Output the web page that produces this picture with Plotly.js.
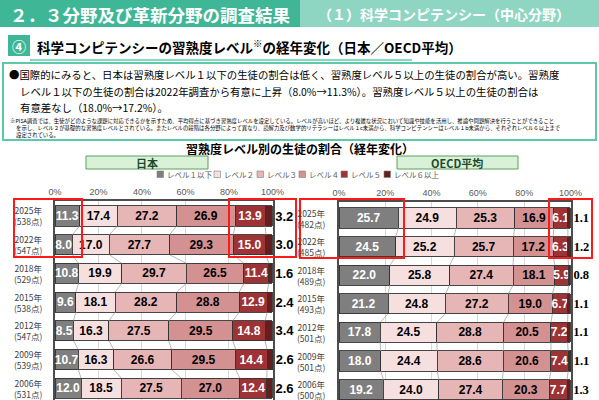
<!DOCTYPE html>
<html>
<head>
<meta charset="utf-8">
<script src="https://cdn.plot.ly/plotly-3.0.1.min.js"></script>
<style>html,body{margin:0;padding:0;background:#fff;}#chart{width:599px;height:400px;}</style>
</head>
<body>
<div id="chart"></div>
<script>
// ---------- DATA ----------
const years = ['2025', '2022', '2018', '2015', '2012', '2009', '2006'];
const jpScores = [538, 547, 529, 538, 547, 539, 531];
const oecdScores = [482, 485, 489, 493, 501, 501, 500];
const levelNames = ['レベル１以下', 'レベル２', 'レベル３', 'レベル４', 'レベル５', 'レベル６以上'];

const jpLv1 = [11.3, 8.0, 10.8, 9.6, 8.5, 10.7, 12.0];
const jpLv2 = [17.4, 17.0, 19.9, 18.1, 16.3, 16.3, 18.5];
const jpLv3 = [27.2, 27.7, 29.7, 28.2, 27.5, 26.6, 27.5];
const jpLv4 = [26.9, 29.3, 26.5, 28.8, 29.5, 29.5, 27.0];
const jpLv5 = [13.9, 15.0, 11.4, 12.9, 14.8, 14.4, 12.4];
const jpLv6 = [3.2, 3.0, 1.6, 2.4, 3.4, 2.6, 2.6];

const oecdLv1 = [25.7, 24.5, 22.0, 21.2, 17.8, 18.0, 19.2];
const oecdLv2 = [24.9, 25.2, 25.8, 24.8, 24.5, 24.4, 24.0];
const oecdLv3 = [25.3, 25.7, 27.4, 27.2, 28.8, 28.6, 27.4];
const oecdLv4 = [16.9, 17.2, 18.1, 19.0, 20.5, 20.6, 20.3];
const oecdLv5 = [6.1, 6.3, 5.9, 6.7, 7.2, 7.4, 7.7];
const oecdLv6 = [1.1, 1.2, 0.8, 1.1, 1.1, 1.1, 1.3];

const xTicks = [0, 20, 40, 60, 80, 100];
const xTickText = ['0%', '20%', '40%', '60%', '80%', '100%'];

// ---------- STYLE ----------
const W = 599, H = 400;
const px = x => x / W;
const py = y => 1 - y / H;
const JP = 'Noto Sans CJK JP, sans-serif';
const NUM = 'Liberation Sans, Arial, sans-serif';
const colors = ['#7f7f7f', '#f6dfdf', '#e6b6b7', '#d49192', '#9e3336', '#641e20'];
const textColors = ['#ffffff', '#000000', '#000000', '#000000', '#ffffff', '#000000'];
const TEAL = '#3fb796', TEAL_L = '#8fd6c2', TEAL_LINE = '#5ccaa8';
const BARW = 0.7;

const rows = years.map((_, i) => i);
const jpLevels = [jpLv1, jpLv2, jpLv3, jpLv4, jpLv5, jpLv6];
const oecdLevels = [oecdLv1, oecdLv2, oecdLv3, oecdLv4, oecdLv5, oecdLv6];

const traces = [];
function addChart(levels, xa, ya, outsideFont) {
  const cum = levels[0].map(() => 0);
  const lx = [], ly = [];
  for (let k = 0; k < 5; k++) {
    levels[k].forEach((v, i) => cum[i] += v);
    for (let i = 0; i < cum.length - 1; i++) {
      lx.push(cum[i], cum[i + 1], null);
      ly.push(i + BARW / 2, i + 1 - BARW / 2, null);
    }
  }
  traces.push({type: 'scatter', mode: 'lines', x: lx, y: ly, xaxis: xa, yaxis: ya,
    line: {color: '#9a9a9a', width: 0.7}, hoverinfo: 'skip', showlegend: false});
  levels.forEach((vals, k) => {
    const last = k === 5;
    const inFont = {family: NUM, size: 12, weight: 'bold', color: textColors[k]};
    const t = {
      type: 'bar', orientation: 'h', x: vals, y: rows, xaxis: xa, yaxis: ya,
      name: levelNames[k], width: BARW,
      marker: {color: colors[k], line: {color: '#333333', width: 0.9}},
      text: vals.map(v => v.toFixed(1)),
      texttemplate: '%{text}',
      textposition: last ? 'outside' : 'inside',
      insidetextanchor: 'middle',
      textangle: 0,
      constraintext: 'none',
      cliponaxis: false,
      textfont: last ? outsideFont : inFont,
      showlegend: false, hoverinfo: 'x+name'
    };
    if (last) t.outsidetextfont = outsideFont; else t.insidetextfont = inFont;
    traces.push(t);
  });
}
addChart(jpLevels, 'x', 'y', {family: NUM, size: 13, weight: 'bold', color: '#000'});
addChart(oecdLevels, 'x2', 'y2', {family: 'Liberation Serif, serif', size: 12.5, weight: 'bold', color: '#000'});

// ---------- LAYOUT ----------
const annotations = [];
const shapes = [];
function txt(text, x, y, o = {}) {
  annotations.push(Object.assign({text, x: px(x), y: py(y), xref: 'paper', yref: 'paper',
    xanchor: 'left', yanchor: 'middle', showarrow: false,
    font: {family: JP, size: 12, color: '#000'}}, o));
}
function rect(x0, y0, x1, y1, o = {}) {
  shapes.push(Object.assign({type: 'rect', xref: 'paper', yref: 'paper',
    x0: px(x0), x1: px(x1), y0: py(y1), y1: py(y0), line: {width: 0}}, o));
}

// header bands
rect(0, 0, 300, 27, {fillcolor: TEAL, layer: 'below'});
rect(300, 0, 599, 27, {fillcolor: TEAL_L, layer: 'below'});
txt('２．３分野及び革新分野の調査結果', 8, 14, {font: {family: JP, size: 17.5, weight: 'bold', color: '#fff'}});
txt('（１）科学コンピテンシー（中心分野）', 316, 14, {font: {family: JP, size: 14, weight: 'bold', color: '#fff'}});

// section heading
rect(8, 35, 30, 56, {fillcolor: TEAL, layer: 'below'});
txt('④', 19, 46, {xanchor: 'center', font: {family: JP, size: 14, weight: 'bold', color: '#fff'}});
txt('科学コンピテンシーの習熟度レベル<sup>※</sup>の経年変化（日本／OECD平均）', 35, 46,
  {font: {family: JP, size: 13.5, weight: 'bold', color: '#000'}});
shapes.push({type: 'line', xref: 'paper', yref: 'paper', x0: px(30), x1: px(412), y0: py(60), y1: py(60),
  line: {color: TEAL_LINE, width: 1.5}});

// summary box
rect(3, 63, 596, 140, {line: {color: TEAL_LINE, width: 2}, fillcolor: 'rgba(0,0,0,0)'});
const bodyFont = {family: JP, size: 10.4, color: '#000'};
txt('●国際的にみると、日本は習熟度レベル１以下の生徒の割合は低く、習熟度レベル５以上の生徒の割合が高い。習熟度', 7, 74, {font: bodyFont});
txt('レベル１以下の生徒の割合は2022年調査から有意に上昇（8.0%→11.3%）。習熟度レベル５以上の生徒の割合は', 18, 91, {font: bodyFont});
txt('有意差なし（18.0%→17.2%）。', 18, 107, {font: bodyFont});
const noteFont = {family: JP, size: 5.4, color: '#000'};
txt('※PISA調査では、生徒がどのような課題に対応できるかを示すため、平均得点に基づき習熟度レベルを設定している。レベルが高いほど、より複雑な状況において知識や技能を活用し、推論や問題解決を行うことができること', 8, 121, {font: noteFont});
txt('を示し、レベル２が基礎的な習熟度レベルとされている。またレベルの段階は各分野によって異なり、読解力及び数学的リテラシーはレベル１c未満から、科学コンピテンシーはレベル１b未満から、それぞれレベル６以上まで', 14, 128, {font: noteFont});
txt('設定されている。', 14, 135, {font: noteFont});

// chart title
txt('習熟度レベル別の生徒の割合（経年変化）', 300, 148, {xanchor: 'center', font: {family: JP, size: 12, weight: 'bold', color: '#000'}});

// panel name boxes
rect(86, 156, 208, 169, {fillcolor: '#d9f1d6', line: {color: '#5e9e63', width: 1}, layer: 'below'});
txt('日本', 147, 162.5, {xanchor: 'center', font: {family: JP, size: 11, weight: 'bold', color: '#1d4a2c'}});
rect(397, 156, 518, 169, {fillcolor: '#d9f1d6', line: {color: '#5e9e63', width: 1}, layer: 'below'});
txt('OECD平均', 457.5, 162.5, {xanchor: 'center', font: {family: JP, size: 11, weight: 'bold', color: '#1d4a2c'}});

// legend (custom)
const legX = [157, 214, 257, 299, 341, 384];
levelNames.forEach((n, k) => {
  rect(legX[k], 171, legX[k] + 6.5, 177.5, {fillcolor: colors[k], line: {color: '#7f7f7f', width: 0.6}});
  txt(n, legX[k] + 8, 174.5, {font: {family: JP, size: 7.5, color: '#595959'}});
});

// year labels
years.forEach((yr, i) => {
  annotations.push({text: yr + '年<br>(' + jpScores[i] + '点)', xref: 'paper', x: px(28), yref: 'y', y: i,
    xanchor: 'center', yanchor: 'middle', align: 'center', showarrow: false,
    font: {family: JP, size: 8.5, color: '#404040'}});
  annotations.push({text: yr + '年<br>(' + oecdScores[i] + '点)', xref: 'paper', x: px(311), yref: 'y2', y: i,
    xanchor: 'center', yanchor: 'middle', align: 'center', showarrow: false,
    font: {family: JP, size: 8.5, color: '#404040'}});
});

// red highlight boxes
const red = {type: 'rect', xref: 'paper', yref: 'paper', line: {color: '#ff1a1a', width: 2}, fillcolor: 'rgba(0,0,0,0)', layer: 'above'};
[[14, 199, 82, 257], [229, 199, 296, 257], [300, 199, 404, 258], [549, 199, 592, 258]].forEach(r => {
  shapes.push(Object.assign({}, red, {x0: px(r[0]), x1: px(r[2]), y0: py(r[3]), y1: py(r[1])}));
});

const xCommon = {range: [0, 100.25], side: 'top', tickvals: xTicks, ticktext: xTickText, tickmode: 'array', showgrid: true,
  gridcolor: '#d9d9d9', gridwidth: 1, zeroline: false, showline: true, mirror: true, linecolor: '#4d4d4d',
  linewidth: 2, ticks: '', tickfont: {family: NUM, size: 9, color: '#595959'},
  fixedrange: true};
const yCommon = {showticklabels: false, showgrid: false, zeroline: false, showline: true, mirror: true,
  linecolor: '#4d4d4d', linewidth: 2, ticks: '', fixedrange: true};

const layout = {
  width: W, height: H, margin: {l: 0, r: 0, t: 0, b: 0}, paper_bgcolor: '#fff', plot_bgcolor: '#fff',
  barmode: 'stack', bargap: 0.3, showlegend: false,
  xaxis: Object.assign({}, xCommon, {domain: [px(55), px(273)], anchor: 'y'}),
  yaxis: Object.assign({}, yCommon, {domain: [0, py(201)], range: [(400 - 216) / 28.7, -15 / 28.7], anchor: 'x'}),
  xaxis2: Object.assign({}, xCommon, {domain: [px(339), px(571)], anchor: 'y2'}),
  yaxis2: Object.assign({}, yCommon, {domain: [0, py(202)], range: [(400 - 218) / 28.6, -16 / 28.6], anchor: 'x2'}),
  annotations, shapes
};

Plotly.newPlot('chart', traces, layout, {displayModeBar: false, staticPlot: true});
</script>
</body>
</html>
